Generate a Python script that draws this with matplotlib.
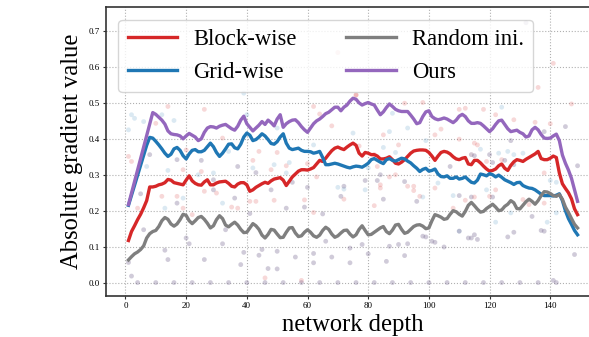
import matplotlib
matplotlib.use("Agg")
import matplotlib.pyplot as plt

plt.rcParams['font.family'] = ['Liberation Serif', 'DejaVu Serif']

depth = list(range(1, 150))

block_wise = [
    0.117, 0.142, 0.158, 0.175, 0.190, 0.208, 0.228, 0.266, 0.266, 0.268,
    0.272, 0.274, 0.278, 0.287, 0.285, 0.278, 0.276, 0.274, 0.272, 0.285,
    0.297, 0.283, 0.276, 0.272, 0.271, 0.280, 0.286, 0.272, 0.272, 0.277,
    0.280, 0.281, 0.282, 0.276, 0.268, 0.266, 0.274, 0.278, 0.278, 0.272,
    0.254, 0.258, 0.265, 0.270, 0.275, 0.279, 0.276, 0.283, 0.288, 0.290,
    0.292, 0.285, 0.270, 0.282, 0.294, 0.302, 0.310, 0.314, 0.314, 0.313,
    0.316, 0.320, 0.330, 0.340, 0.337, 0.346, 0.357, 0.367, 0.374, 0.377,
    0.373, 0.370, 0.377, 0.383, 0.388, 0.382, 0.360, 0.352, 0.362, 0.360,
    0.356, 0.356, 0.352, 0.344, 0.344, 0.346, 0.350, 0.342, 0.332, 0.330,
    0.335, 0.342, 0.351, 0.360, 0.366, 0.368, 0.369, 0.369, 0.368, 0.362,
    0.352, 0.340, 0.352, 0.362, 0.365, 0.363, 0.358, 0.350, 0.344, 0.342,
    0.346, 0.348, 0.330, 0.328, 0.340, 0.340, 0.333, 0.324, 0.316, 0.310,
    0.312, 0.316, 0.325, 0.330, 0.318, 0.312, 0.326, 0.336, 0.342, 0.340,
    0.337, 0.343, 0.348, 0.353, 0.358, 0.365, 0.345, 0.342, 0.342, 0.346,
    0.352, 0.348, 0.305, 0.275, 0.262, 0.250, 0.233, 0.205, 0.189,
]

grid_wise = [
    0.215, 0.243, 0.272, 0.300, 0.328, 0.356, 0.382, 0.404, 0.402, 0.393,
    0.383, 0.372, 0.360, 0.351, 0.357, 0.372, 0.376, 0.368, 0.353, 0.344,
    0.358, 0.368, 0.370, 0.364, 0.364, 0.368, 0.378, 0.388, 0.378, 0.362,
    0.351, 0.360, 0.372, 0.385, 0.386, 0.375, 0.372, 0.385, 0.405, 0.416,
    0.410, 0.395, 0.398, 0.405, 0.414, 0.408, 0.398, 0.387, 0.385, 0.392,
    0.405, 0.414, 0.388, 0.374, 0.370, 0.372, 0.374, 0.368, 0.365, 0.365,
    0.364, 0.360, 0.362, 0.365, 0.348, 0.328, 0.328, 0.330, 0.332, 0.330,
    0.327, 0.324, 0.321, 0.319, 0.322, 0.324, 0.323, 0.321, 0.326, 0.332,
    0.342, 0.345, 0.340, 0.335, 0.331, 0.342, 0.345, 0.340, 0.338, 0.342,
    0.346, 0.344, 0.338, 0.333, 0.325, 0.318, 0.309, 0.315, 0.318, 0.310,
    0.312, 0.316, 0.302, 0.295, 0.294, 0.297, 0.290, 0.290, 0.294, 0.288,
    0.290, 0.294, 0.286, 0.279, 0.277, 0.285, 0.302, 0.300, 0.297, 0.303,
    0.300, 0.294, 0.299, 0.293, 0.286, 0.282, 0.278, 0.273, 0.278, 0.279,
    0.270, 0.266, 0.263, 0.262, 0.258, 0.252, 0.246, 0.242, 0.242, 0.242,
    0.241, 0.243, 0.247, 0.228, 0.200, 0.178, 0.162, 0.145, 0.133,
]

random_ini = [
    0.063, 0.072, 0.080, 0.085, 0.092, 0.102, 0.124, 0.136, 0.142, 0.145,
    0.156, 0.172, 0.181, 0.176, 0.163, 0.157, 0.163, 0.175, 0.190, 0.187,
    0.172, 0.164, 0.172, 0.181, 0.184, 0.176, 0.165, 0.152, 0.158, 0.175,
    0.186, 0.178, 0.160, 0.155, 0.162, 0.168, 0.160, 0.148, 0.139, 0.140,
    0.152, 0.164, 0.158, 0.148, 0.132, 0.124, 0.134, 0.148, 0.146, 0.135,
    0.125, 0.126, 0.140, 0.152, 0.153, 0.138, 0.128, 0.130, 0.140, 0.147,
    0.140, 0.130, 0.126, 0.132, 0.145, 0.154, 0.148, 0.135, 0.126, 0.130,
    0.138, 0.145, 0.146, 0.135, 0.127, 0.133, 0.148, 0.158, 0.145, 0.133,
    0.134, 0.140, 0.146, 0.152, 0.156, 0.142, 0.136, 0.146, 0.160, 0.162,
    0.148, 0.137, 0.140, 0.148, 0.156, 0.160, 0.161, 0.157, 0.150, 0.152,
    0.172, 0.189, 0.186, 0.182, 0.176, 0.178, 0.190, 0.200, 0.197, 0.190,
    0.185, 0.198, 0.215, 0.223, 0.214, 0.204, 0.196, 0.198, 0.206, 0.212,
    0.218, 0.210, 0.200, 0.202, 0.212, 0.218, 0.228, 0.222, 0.206, 0.205,
    0.215, 0.225, 0.232, 0.226, 0.218, 0.228, 0.242, 0.253, 0.252, 0.248,
    0.242, 0.240, 0.245, 0.232, 0.210, 0.195, 0.178, 0.162, 0.152,
]

ours = [
    0.217, 0.249, 0.281, 0.313, 0.345, 0.377, 0.409, 0.441, 0.473, 0.468,
    0.460, 0.452, 0.441, 0.422, 0.414, 0.412, 0.411, 0.408, 0.400, 0.408,
    0.415, 0.410, 0.405, 0.395, 0.400, 0.418, 0.430, 0.434, 0.433, 0.430,
    0.435, 0.438, 0.440, 0.434, 0.428, 0.424, 0.435, 0.452, 0.463, 0.442,
    0.432, 0.422, 0.430, 0.438, 0.448, 0.440, 0.452, 0.445, 0.436, 0.455,
    0.467, 0.432, 0.442, 0.448, 0.452, 0.453, 0.445, 0.434, 0.425, 0.418,
    0.430, 0.442, 0.450, 0.455, 0.462, 0.470, 0.474, 0.481, 0.488, 0.488,
    0.478, 0.488, 0.494, 0.505, 0.513, 0.510, 0.500, 0.494, 0.498, 0.501,
    0.497, 0.494, 0.480, 0.467, 0.475, 0.487, 0.497, 0.490, 0.482, 0.478,
    0.476, 0.476, 0.476, 0.466, 0.455, 0.442, 0.445, 0.462, 0.475, 0.478,
    0.462, 0.456, 0.453, 0.455, 0.458, 0.455, 0.450, 0.445, 0.452, 0.463,
    0.468, 0.462, 0.450, 0.443, 0.443, 0.445, 0.443, 0.436, 0.428, 0.420,
    0.428, 0.440, 0.450, 0.452, 0.440, 0.428, 0.420, 0.422, 0.424, 0.418,
    0.414, 0.405, 0.408, 0.425, 0.432, 0.425, 0.412, 0.402, 0.401, 0.402,
    0.408, 0.413, 0.395, 0.355, 0.332, 0.313, 0.290, 0.258, 0.226,
]

# raw per-layer samples shown as faint dots
block_raw_x = [14, 26, 1, 2, 10, 4, 12, 17, 19, 22, 25, 26, 30, 20, 32, 35, 19,
               62, 64, 68, 76, 50, 44, 42, 60, 53, 48, 63, 72, 59, 41, 43, 49,
               37, 62, 58, 92, 98, 110, 112, 85, 102, 104, 110, 115, 77, 90, 82,
               83, 87, 89, 93, 84, 84, 95, 95, 97, 102, 108, 112, 82, 147, 118,
               122, 128, 135, 140, 116, 114, 119, 124, 138, 122, 120, 115, 131,
               133, 138, 70, 141, 136, 76, 46]
block_raw_y = [0.490, 0.482, 0.351, 0.337, 0.443, 0.207, 0.240, 0.240, 0.207,
               0.189, 0.309, 0.254, 0.249, 0.369, 0.402, 0.210, 0.314, 0.490,
               0.469, 0.436, 0.522, 0.362, 0.365, 0.340, 0.331, 0.325, 0.314,
               0.294, 0.232, 0.230, 0.226, 0.226, 0.229, 0.207, 0.195, 0.006,
               0.499, 0.501, 0.482, 0.485, 0.411, 0.411, 0.427, 0.399, 0.388,
               0.380, 0.383, 0.356, 0.323, 0.294, 0.300, 0.268, 0.272, 0.263,
               0.268, 0.256, 0.240, 0.263, 0.207, 0.229, 0.214, 0.497, 0.482,
               0.467, 0.453, 0.446, 0.442, 0.383, 0.356, 0.337, 0.342, 0.305,
               0.258, 0.240, 0.238, 0.231, 0.217, 0.221, 0.640, 0.610, 0.543,
               0.522, 0.013]

grid_raw_x = [2, 1, 3, 6, 12, 16, 7, 13, 14, 19, 24, 29, 34, 32, 40, 39, 50,
              75, 62, 49, 54, 42, 53, 70, 72, 88, 93, 87, 99, 85, 89, 114, 80,
              79, 98, 103, 108, 124, 117, 123, 126, 128, 131, 140, 142, 119,
              127, 122, 139, 142, 110]
grid_raw_y = [0.467, 0.425, 0.457, 0.448, 0.467, 0.451, 0.323, 0.207, 0.312,
              0.235, 0.300, 0.305, 0.365, 0.221, 0.467, 0.527, 0.430, 0.416,
              0.383, 0.328, 0.334, 0.319, 0.305, 0.265, 0.260, 0.471, 0.430,
              0.420, 0.395, 0.376, 0.362, 0.356, 0.319, 0.258, 0.238, 0.277,
              0.242, 0.488, 0.371, 0.360, 0.365, 0.356, 0.360, 0.284, 0.279,
              0.258, 0.194, 0.168, 0.168, 0.194, 0.143]

random_raw_x = [4, 10, 16, 22, 28, 34, 40, 46, 52, 58, 64, 70, 76, 82, 88, 94,
                100, 106, 112, 118, 124, 130, 136, 142,
                8, 5, 17, 20, 21, 25, 29, 17, 36, 33, 32, 26, 14, 13, 6, 2, 1,
                29, 37, 43, 48, 55, 60, 72, 71, 59, 53, 41, 65, 66, 74, 68, 62,
                62, 56, 50, 50, 45, 44, 39, 38, 74, 79, 84, 83, 92, 96, 107,
                110, 114, 85, 110, 113, 115, 80, 86, 92, 78, 87, 90, 93, 98, 99,
                102, 105, 145, 138, 127, 115, 120, 121, 125, 128, 149, 121, 128,
                126, 138, 114, 116, 148, 134, 132, 101, 141, 137, 47]
random_raw_y = [0.0, 0.0, 0.0, 0.0, 0.0, 0.0, 0.0, 0.0, 0.0, 0.0, 0.0, 0.0,
                0.0, 0.0, 0.0, 0.0, 0.0, 0.0, 0.0, 0.0, 0.0, 0.0, 0.0, 0.0,
                0.356, 0.247, 0.221, 0.124, 0.108, 0.340, 0.258, 0.342, 0.235,
                0.147, 0.108, 0.064, 0.064, 0.090, 0.147, 0.018, 0.056, 0.286,
                0.323, 0.306, 0.258, 0.279, 0.265, 0.268, 0.240, 0.210, 0.207,
                0.192, 0.191, 0.115, 0.096, 0.071, 0.081, 0.055, 0.071, 0.038,
                0.087, 0.092, 0.076, 0.084, 0.050, 0.055, 0.284, 0.300, 0.284,
                0.281, 0.226, 0.323, 0.242, 0.238, 0.232, 0.143, 0.124, 0.133,
                0.080, 0.059, 0.075, 0.106, 0.101, 0.106, 0.108, 0.129, 0.127,
                0.112, 0.099, 0.434, 0.420, 0.395, 0.353, 0.356, 0.334, 0.340,
                0.328, 0.325, 0.238, 0.140, 0.127, 0.143, 0.124, 0.120, 0.078,
                0.184, 0.723, 0.115, 0.006, 0.145, 0.039]

red, blue, gray, purple = '#d62728', '#1f77b4', '#7f7f7f', '#9467bd'

fig = plt.figure(figsize=(5.89, 3.37), dpi=100)
ax = fig.add_axes([0.18, 0.1226, 0.8387, 0.8558])

dot = dict(s=12, edgecolors='none', zorder=1)
ax.scatter(block_raw_x, block_raw_y, color=red, alpha=0.18, **dot)
ax.scatter(grid_raw_x, grid_raw_y, color=blue, alpha=0.16, **dot)
ax.scatter(random_raw_x, random_raw_y, color='#6f5f8a', alpha=0.32, **dot)

lw = 2.4
ax.plot(depth, block_wise, color=red, lw=lw, label='Block-wise', zorder=3)
ax.plot(depth, grid_wise, color=blue, lw=lw, label='Grid-wise', zorder=3)
ax.plot(depth, random_ini, color=gray, lw=lw, label='Random ini.', zorder=3)
ax.plot(depth, ours, color=purple, lw=lw, label='Ours', zorder=3)

ax.set_xlim(-6.4, 156.4)
ax.set_ylim(-0.0365, 0.766)
ax.set_xticks(range(0, 141, 20))
ax.set_yticks([0.0, 0.1, 0.2, 0.3, 0.4, 0.5, 0.6, 0.7])
ax.set_yticklabels(['0.0', '0.1', '0.2', '0.3', '0.4', '0.5', '0.6', '0.7'])
ax.tick_params(length=2.5, width=0.8, pad=2, labelsize=6.5, color='#333333')
ax.grid(True, linestyle=':', color='#b0b0b0', linewidth=0.8, zorder=0)
ax.set_axisbelow(True)
for sp in ax.spines.values():
    sp.set_color('#333333')
    sp.set_linewidth(1.2)

ax.set_xlabel('network depth', fontsize=17.7, labelpad=3)
ax.set_ylabel('Absolute gradient value', fontsize=17.7, labelpad=4)

ax.legend(loc='upper left', ncol=2, fontsize=16.3, handlelength=2.2,
          handletextpad=0.7, columnspacing=2.2, labelspacing=0.55,
          borderaxespad=0.55, borderpad=0.4)

fig.savefig('out.png', dpi=100)
